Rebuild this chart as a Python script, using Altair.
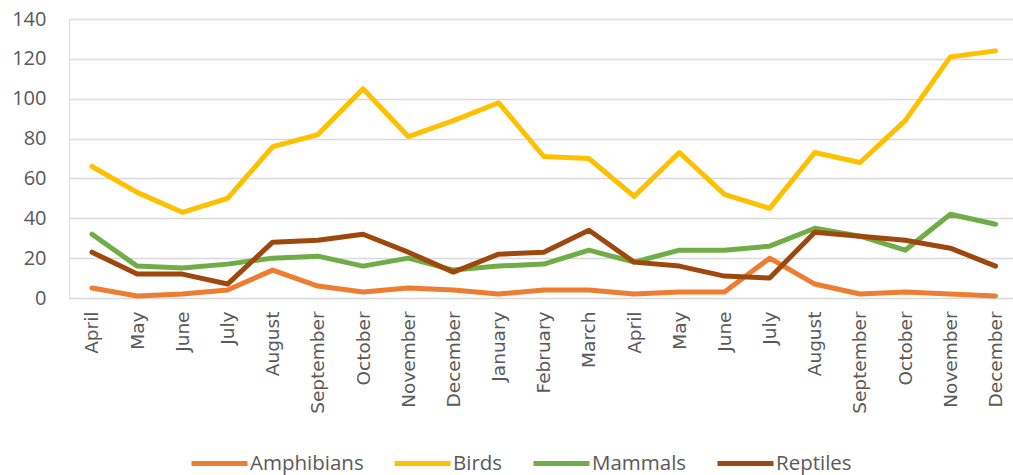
import altair as alt
import pandas as pd

# Monthly counts per animal group, April through the following December
months = ["April", "May", "June", "July", "August", "September", "October",
          "November", "December", "January", "February", "March", "April",
          "May", "June", "July", "August", "September", "October",
          "November", "December"]

amphibians = [5, 1, 2, 4, 14, 6, 3, 5, 4, 2, 4, 4, 2, 3, 3, 20, 7, 2, 3, 2, 1]
birds = [66, 53, 43, 50, 76, 82, 105, 81, 89, 98, 71, 70, 51, 73, 52, 45,
         73, 68, 89, 121, 124]
mammals = [32, 16, 15, 17, 20, 21, 16, 20, 14, 16, 17, 24, 18, 24, 24, 26,
           35, 31, 24, 42, 37]
reptiles = [23, 12, 12, 7, 28, 29, 32, 23, 13, 22, 23, 34, 18, 16, 11, 10,
            33, 31, 29, 25, 16]

groups = ["Amphibians", "Birds", "Mammals", "Reptiles"]
colors = ["#ED7D31", "#FFC000", "#70AD47", "#9E480E"]

rows = []
for name, series in zip(groups, [amphibians, birds, mammals, reptiles]):
    for i, (m, v) in enumerate(zip(months, series)):
        rows.append({"idx": i, "month": m, "group": name, "count": v})
df = pd.DataFrame(rows)

month_lookup = "[" + ",".join(f"'{m}'" for m in months) + "][datum.value]"

chart = alt.Chart(df).mark_line(
    strokeWidth=5, strokeCap="round", strokeJoin="round"
).encode(
    x=alt.X(
        "idx:Q",
        scale=alt.Scale(domain=[-0.509, 20.387], nice=False, zero=False),
        axis=alt.Axis(
            values=list(range(len(months))),
            labelExpr=month_lookup,
            labelAngle=270,
            labelFont="DejaVu Sans",
            labelFontSize=18.5,
            labelColor="#595959",
            labelPadding=13,
            labelOverlap=False,
            labelFlush=False,
            ticks=False,
            tickSize=0,
            domain=False,
            grid=False,
            title=None,
        ),
    ),
    y=alt.Y(
        "count:Q",
        scale=alt.Scale(domain=[0, 140], nice=False),
        axis=alt.Axis(
            values=list(range(0, 141, 20)),
            labelFont="Open Sans",
            labelFontSize=20,
            labelColor="#595959",
            labelPadding=23,
            ticks=False,
            tickSize=0,
            domain=False,
            grid=True,
            gridColor="#D9D9D9",
            gridWidth=1.3,
            title=None,
        ),
    ),
    color=alt.Color(
        "group:N",
        scale=alt.Scale(domain=groups, range=colors),
        legend=alt.Legend(
            title=None,
            orient="none",
            direction="horizontal",
            legendX=120,
            legendY=414,
            symbolType="stroke",
            symbolSize=3136,
            symbolStrokeWidth=5,
            labelFont="Open Sans",
            labelFontSize=20.5,
            labelColor="#595959",
            labelOffset=0,
            columnPadding=20,
            padding=0,
        ),
    ),
    detail="group:N",
).properties(
    width=944,
    height=279,
    autosize=alt.AutoSizeParams(type="none"),
    padding={"left": 69, "top": 19, "right": 0, "bottom": 177},
).configure_view(
    stroke=None
).configure(
    background="white"
)

chart.save("out.html", embed_options={"renderer": "svg", "actions": False})
